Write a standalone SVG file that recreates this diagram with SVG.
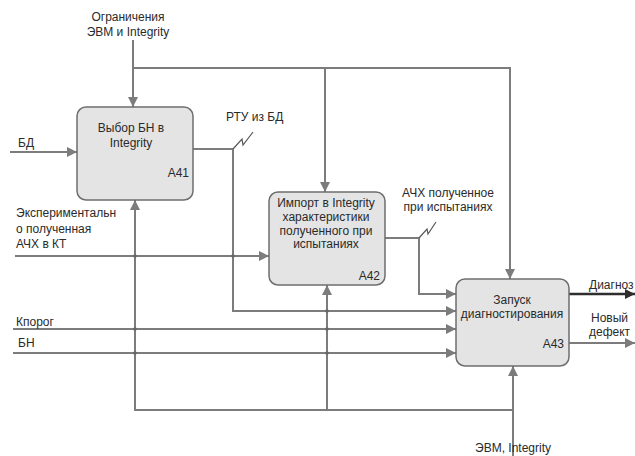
<svg xmlns="http://www.w3.org/2000/svg" width="635" height="456" viewBox="0 0 635 456">
<style>
.box{fill:#e4e4e4;stroke:#6e6e6e;stroke-width:1.5}
.t{font-family:"Liberation Sans",Arial,sans-serif;font-size:12px;fill:#2a2a2a}
.c{text-anchor:middle}
.r{text-anchor:end}
.ln{fill:none;stroke:#7c7c7c;stroke-width:2}
.dk{fill:none;stroke:#2e2e2e;stroke-width:2.5}
.sq{fill:none;stroke:#555;stroke-width:1.2}
.dot{fill:#666}
</style>
<defs>
<marker id="ar" viewBox="0 0 10 10" refX="10" refY="5" markerWidth="6" markerHeight="5" orient="auto" markerUnits="strokeWidth">
<path d="M0,0 L10,5 L0,10 z" fill="#7c7c7c"/>
</marker>
<marker id="ard" viewBox="0 0 10 10" refX="10" refY="5" markerWidth="4.5" markerHeight="4" orient="auto" markerUnits="strokeWidth">
<path d="M0,0 L10,5 L0,10 z" fill="#2e2e2e"/>
</marker>
</defs>
<rect width="635" height="456" fill="#ffffff"/>
<g id="connectors">
<path class="ln" d="M133,40 V107" marker-end="url(#ar)"/>
<path class="ln" d="M133,68 H510 V279" marker-end="url(#ar)"/>
<path class="ln" d="M325,68 V192" marker-end="url(#ar)"/>
<path class="ln" d="M10,152 H77" marker-end="url(#ar)"/>
<path class="ln" d="M193,149 H233 V311 H456" marker-end="url(#ar)"/>
<path class="sq" d="M233,149 L242,139 L243,145 L253,132"/>
<path class="ln" d="M15,256 H269" marker-end="url(#ar)"/>
<path class="ln" d="M385,238 H419 V294 H456" marker-end="url(#ar)"/>
<path class="sq" d="M419,238 L427,229 L428,234 L436,222"/>
<path class="ln" d="M13,329 H456" marker-end="url(#ar)"/>
<path class="ln" d="M13,353 H456" marker-end="url(#ar)"/>
<path class="ln" d="M513,456 V366" marker-end="url(#ar)"/>
<path class="ln" d="M513,410 H135 V200" marker-end="url(#ar)"/>
<path class="ln" d="M327,410 V285" marker-end="url(#ar)"/>
<path class="dk" d="M569,294 H635" marker-end="url(#ard)"/>
<path class="ln" d="M569,343 H635" marker-end="url(#ar)"/>
<circle class="dot" cx="135" cy="256" r="1.8"/>
<circle class="dot" cx="233" cy="256" r="1.8"/>
<circle class="dot" cx="135" cy="329" r="1.8"/>
<circle class="dot" cx="135" cy="353" r="1.8"/>
<circle class="dot" cx="327" cy="311" r="1.8"/>
<circle class="dot" cx="327" cy="329" r="1.8"/>
<circle class="dot" cx="327" cy="353" r="1.8"/>
</g>
<g id="A41">
<rect class="box" x="77" y="107" width="116" height="93" rx="9"/>
<text class="t c" x="131" y="132">Выбор БН  в</text>
<text class="t c" x="131" y="147">Integrity</text>
<text class="t r" x="189" y="177">А41</text>
</g>
<g id="A42">
<rect class="box" x="269" y="192" width="116" height="93" rx="9"/>
<text class="t c" x="326" y="207">Импорт в Integrity</text>
<text class="t c" x="326" y="221">характеристики</text>
<text class="t c" x="326" y="235">полученного при</text>
<text class="t c" x="326" y="248">испытаниях</text>
<text class="t r" x="380" y="280">А42</text>
</g>
<g id="A43">
<rect class="box" x="456" y="279" width="113" height="87" rx="9"/>
<text class="t c" x="512" y="304">Запуск</text>
<text class="t c" x="512" y="318">диагностирования</text>
<text class="t r" x="564" y="348">А43</text>
</g>
<g id="labels">
<text class="t c" x="128" y="21">Ограничения</text>
<text class="t c" x="128" y="36">ЭВМ и Integrity</text>
<text class="t" x="18" y="147">БД</text>
<text class="t" x="226" y="121">РТУ из БД</text>
<text class="t" x="16" y="217">Экспериментальн</text>
<text class="t" x="16" y="233">о полученная</text>
<text class="t" x="16" y="248">АЧХ в КТ</text>
<text class="t" x="16" y="326" font-size="9.5">Кпорог</text>
<text class="t" x="18" y="347">БН</text>
<text class="t c" x="448" y="197">АЧХ полученное</text>
<text class="t c" x="448" y="211">при испытаниях</text>
<text class="t" x="589" y="289">Диагноз</text>
<text class="t" x="591" y="322">Новый</text>
<text class="t" x="589" y="336">дефект</text>
<text class="t c" x="513" y="452">ЭВМ,  Integrity</text>
</g>
</svg>
